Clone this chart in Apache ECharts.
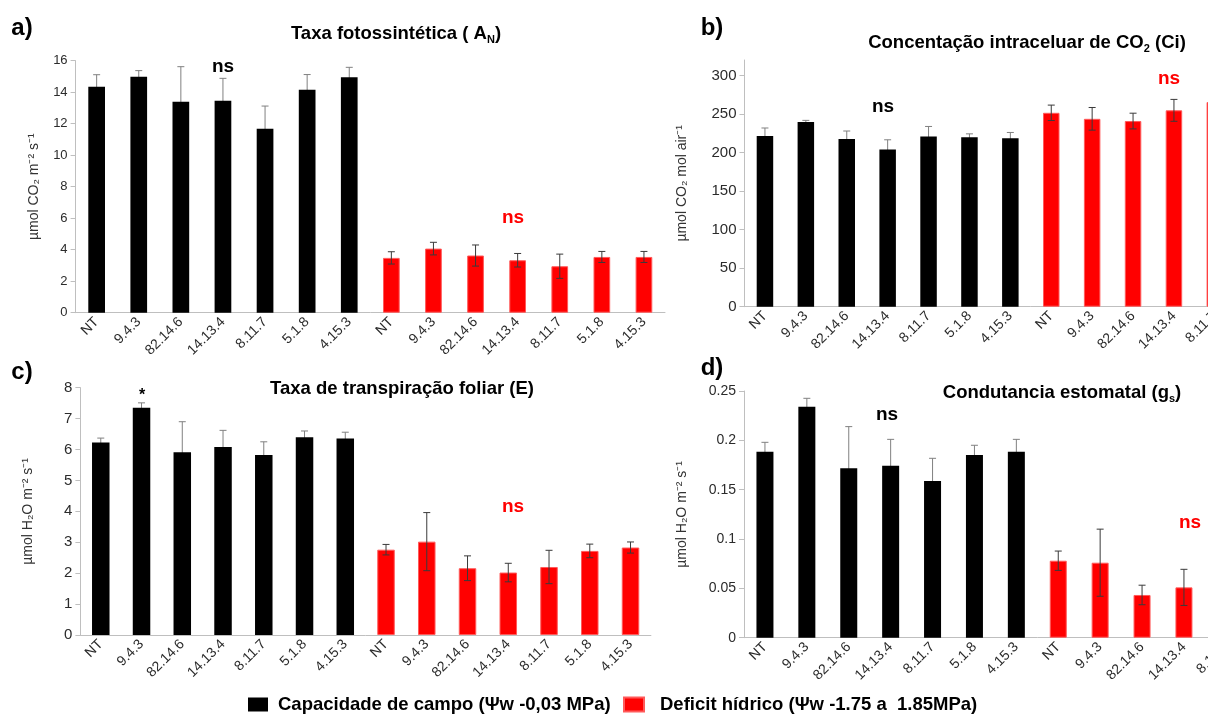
<!DOCTYPE html>
<html>
<head>
<meta charset="utf-8">
<script src="https://cdn.jsdelivr.net/npm/echarts@6/dist/echarts.min.js"></script>
<style>
html,body{margin:0;padding:0;background:#fff;overflow:hidden;width:1208px;height:718px;}
#chart{width:1340px;height:718px;}
</style>
</head>
<body>
<div id="chart"></div>
<script>
// ---------- data ----------
const categories = ['NT', '9.4.3', '82.14.6', '14.13.4', '8.11.7', '5.1.8', '4.15.3'];
const seriesNames = ['Capacidade de campo (Ψw -0,03 MPa)', 'Deficit hídrico (Ψw -1.75 a  1.85MPa)'];

// a) Taxa fotossintética (A_N)
const aControl    = [14.35, 14.98, 13.40, 13.46, 11.68, 14.15, 14.95];
const aControlErr = [0.76, 0.39, 2.22, 1.42, 1.44, 0.97, 0.63];
const aDeficit    = [3.48, 4.07, 3.63, 3.33, 2.95, 3.54, 3.54];
const aDeficitErr = [0.39, 0.40, 0.67, 0.43, 0.77, 0.35, 0.35];

// b) Concentação intraceluar de CO2 (Ci)
const bControl    = [221.4, 239.5, 217.5, 203.9, 220.8, 219.9, 218.6];
const bControlErr = [10.4, 2.2, 10.4, 12.6, 13.0, 4.3, 7.4];
const bDeficit    = [251.5, 243.7, 240.8, 254.7, 265.4, 250.0, 248.0];
const bDeficitErr = [10.0, 14.7, 10.2, 14.2, 12.0, 10.0, 10.0];

// c) Taxa de transpiração foliar (E)
const cControl    = [6.23, 7.35, 5.91, 6.08, 5.82, 6.40, 6.36];
const cControlErr = [0.14, 0.16, 0.99, 0.54, 0.43, 0.20, 0.20];
const cDeficit    = [2.76, 3.02, 2.16, 2.02, 2.20, 2.72, 2.83];
const cDeficitErr = [0.17, 0.94, 0.40, 0.30, 0.54, 0.22, 0.18];

// d) Condutancia estomatal (g_s)
const dControl    = [0.1885, 0.2340, 0.1716, 0.1743, 0.1588, 0.1851, 0.1885];
const dControlErr = [0.0095, 0.0086, 0.0423, 0.0267, 0.0230, 0.0099, 0.0125];
const dDeficit    = [0.0780, 0.0760, 0.0433, 0.0510, 0.0500, 0.0600, 0.0550];
const dDeficitErr = [0.0098, 0.0340, 0.0099, 0.0183, 0.0100, 0.0100, 0.0100];

// y-axis tick settings
const yMax = [16, 320, 8, 0.25];
const yInterval = [2, 50, 1, 0.05];
const bTickValues = [0, 50, 100, 150, 200, 250, 300];

// ---------- build ----------
const panels = [
  {c: aControl, ce: aControlErr, d: aDeficit, de: aDeficitErr},
  {c: bControl, ce: bControlErr, d: bDeficit, de: bDeficitErr},
  {c: cControl, ce: cControlErr, d: cDeficit, de: cDeficitErr},
  {c: dControl, ce: dControlErr, d: dDeficit, de: dDeficitErr}
];
const grids = [
  {left: 75.6, top: 60.7, width: 589.4, height: 252},
  {left: 744.5, top: 60, width: 572.6, height: 246.7},
  {left: 80.4, top: 387.7, width: 570.5, height: 247.3},
  {left: 744, top: 391, width: 586.6, height: 246.7}
];
const yNames = ['µmol CO₂ m⁻² s⁻¹', 'µmol CO₂ mol air⁻¹', 'µmol H₂O m⁻² s⁻¹', 'µmol H₂O m⁻² s⁻¹'];
const yNameGap = [34, 55, 45, 55];
const yLabelSize = [13, 15, 15, 14];
const barW = [16.7, 16.5, 17.5, 17];

const allCats = categories.concat(categories);
const axisGray = '#bfbfbf';
const FONT = "'Liberation Sans', Arial, sans-serif";
const TFONT = "'Liberation Sans', Arial, sans-serif";

function errRender(color) {
  return function (params, api) {
    const x = api.value(0);
    const p1 = api.coord([x, api.value(1)]);
    const p2 = api.coord([x, api.value(2)]);
    const hw = 3.5;
    const st = {stroke: color, lineWidth: 1};
    return {type: 'group', children: [
      {type: 'line', shape: {x1: p1[0], y1: p1[1], x2: p2[0], y2: p2[1]}, style: st},
      {type: 'line', shape: {x1: p1[0]-hw, y1: p1[1], x2: p1[0]+hw, y2: p1[1]}, style: st},
      {type: 'line', shape: {x1: p2[0]-hw, y1: p2[1], x2: p2[0]+hw, y2: p2[1]}, style: st}
    ]};
  };
}

const xAxis = [], yAxis = [], series = [];
panels.forEach((p, i) => {
  xAxis.push({
    type: 'category', gridIndex: i, data: allCats,
    axisLine: {lineStyle: {color: axisGray, width: 1}},
    axisTick: {show: false},
    axisLabel: {rotate: 45, interval: 0, fontSize: 14, color: '#2b2b2b', fontFamily: FONT, margin: 7}
  });
  const y = {
    type: 'value', gridIndex: i, min: 0, max: yMax[i], interval: yInterval[i],
    name: yNames[i], nameLocation: 'middle', nameGap: yNameGap[i], nameRotate: 90,
    nameTextStyle: {fontSize: 14, color: '#333', fontFamily: FONT},
    axisLine: {show: true, lineStyle: {color: axisGray, width: 1}},
    axisTick: {show: true, length: 5, lineStyle: {color: axisGray}},
    splitLine: {show: false},
    axisLabel: {fontSize: yLabelSize[i], color: '#2b2b2b', fontFamily: FONT, margin: 8}
  };
  if (i === 1) {
    y.axisLabel.customValues = bTickValues;
    y.axisTick.customValues = bTickValues;
  }
  yAxis.push(y);
  const blank = categories.map(() => '-');
  series.push({
    name: seriesNames[0], type: 'bar', xAxisIndex: i, yAxisIndex: i,
    data: p.c.concat(blank), barWidth: barW[i], barGap: '-100%',
    itemStyle: {color: '#000000'}, z: 3, silent: true
  });
  series.push({
    name: seriesNames[1], type: 'bar', xAxisIndex: i, yAxisIndex: i,
    data: blank.concat(p.d), barWidth: barW[i], barGap: '-100%',
    itemStyle: {color: '#ff0000', borderColor: '#ff5a5a', borderWidth: 1}, z: 3, silent: true
  });
  series.push({
    type: 'custom', xAxisIndex: i, yAxisIndex: i, z: 2, silent: true,
    renderItem: errRender('#808080'),
    encode: {x: 0, y: [1, 2]},
    data: p.c.map((v, k) => [k, v - p.ce[k], v + p.ce[k]])
  });
  series.push({
    type: 'custom', xAxisIndex: i, yAxisIndex: i, z: 5, silent: true,
    renderItem: errRender('#3a3a3a'),
    encode: {x: 0, y: [1, 2]},
    data: p.d.map((v, k) => [k + 7, v - p.de[k], v + p.de[k]])
  });
});

function txt(text, x, y, size, color, font, rich) {
  return {type: 'text', x: x, y: y, style: {text: text, fontSize: size, fontWeight: 'bold',
    fill: color, fontFamily: font, align: 'center', verticalAlign: 'middle', rich: rich}};
}
const subRich = {
  m: {fontSize: 18.5, fontWeight: 'bold', fontFamily: TFONT, fill: '#000', lineHeight: 22},
  s: {fontSize: 11, fontWeight: 'bold', fontFamily: TFONT, fill: '#000', verticalAlign: 'bottom', lineHeight: 22, padding: [7, 0, 0, 0]}
};

const graphic = [
  txt('a)', 22, 28, 24, '#000', FONT),
  txt('b)', 712, 28, 24, '#000', FONT),
  txt('c)', 22, 372, 24, '#000', FONT),
  txt('d)', 712, 368, 24, '#000', FONT),
  txt('{m|Taxa fotossintética ( A}{s|N}{m|)}', 396, 34, 18.5, '#000', TFONT, subRich),
  txt('{m|Concentação intraceluar de CO}{s|2}{m| (Ci)}', 1027, 43, 18.5, '#000', TFONT, subRich),
  txt('{m|Taxa de transpiração foliar (E)}', 402, 389, 18.5, '#000', TFONT, subRich),
  txt('{m|Condutancia estomatal (g}{s|s}{m|)}', 1062, 393, 18.5, '#000', TFONT, subRich),
  txt('ns', 223, 67, 19, '#000', FONT),
  txt('ns', 513, 218, 19, '#ff0000', FONT),
  txt('ns', 883, 107, 19, '#000', FONT),
  txt('ns', 1169, 79, 19, '#ff0000', FONT),
  txt('ns', 513, 507, 19, '#ff0000', FONT),
  txt('ns', 887, 415, 19, '#000', FONT),
  txt('ns', 1190, 523, 19, '#ff0000', FONT),
  txt('*', 142, 396, 16, '#000', FONT)
];

const legendText1 = {fontSize: 18.5, fontWeight: 'bold', color: '#000', fontFamily: TFONT, padding: [0, 0, 0, 5]};
const legendText2 = {fontSize: 18.5, fontWeight: 'bold', color: '#000', fontFamily: TFONT, padding: [0, 0, 0, 11]};
const option = {
  backgroundColor: '#ffffff',
  animation: false,
  grid: grids.map(g => Object.assign({containLabel: false}, g)),
  xAxis: xAxis,
  yAxis: yAxis,
  legend: [
    {data: [{name: seriesNames[0], icon: 'rect'}], left: 248, top: 695, padding: 0, itemWidth: 20, itemHeight: 14, textStyle: legendText1, selectedMode: false},
    {data: [{name: seriesNames[1], icon: 'rect'}], left: 623, top: 695, padding: 0, itemWidth: 20, itemHeight: 14, textStyle: legendText2, selectedMode: false}
  ],
  graphic: graphic,
  series: series
};
const chart = echarts.init(document.getElementById('chart'), null, {renderer: 'canvas'});
chart.setOption(option);
</script>
</body>
</html>
